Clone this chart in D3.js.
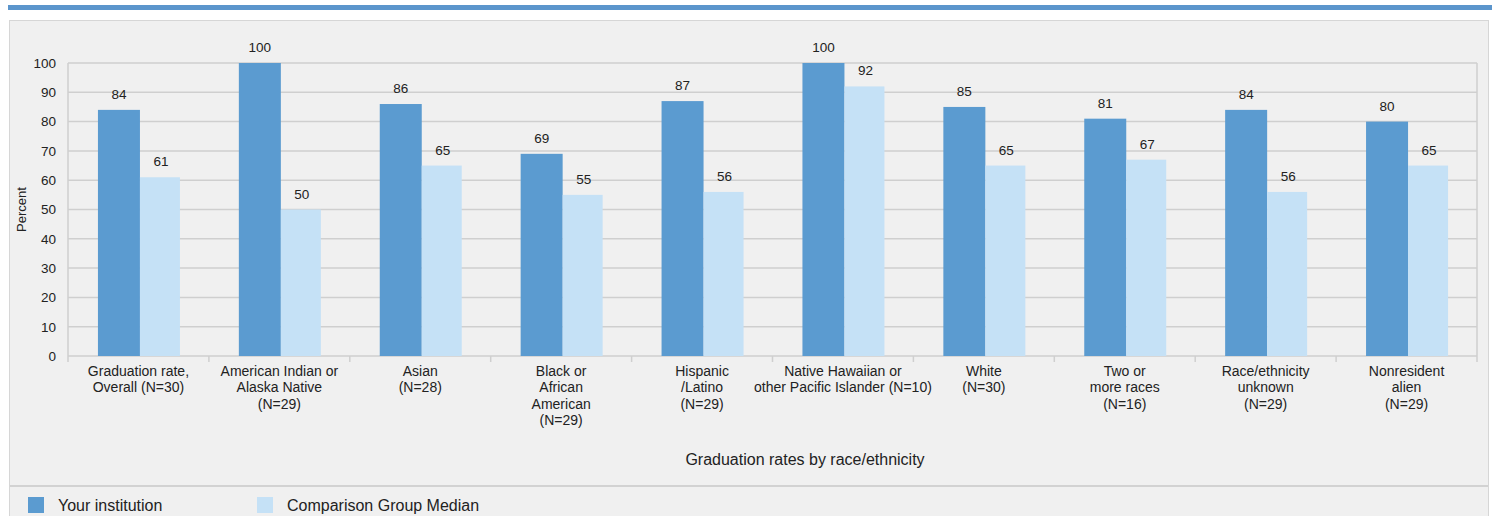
<!DOCTYPE html>
<html>
<head>
<meta charset="utf-8">
<script src="https://cdn.jsdelivr.net/npm/d3@7"></script>
<style>
  body { margin: 0; background: #fff; }
  svg { display: block; font-family: "Liberation Sans", Arial, sans-serif; }
</style>
</head>
<body>
<svg id="visframe" width="1497" height="516"></svg>
<script>
// chart data
var categories = [
  ["Graduation rate,", "Overall (N=30)"],
  ["American Indian or", "Alaska Native", "(N=29)"],
  ["Asian", "(N=28)"],
  ["Black or", "African", "American", "(N=29)"],
  ["Hispanic", "/Latino", "(N=29)"],
  ["Native Hawaiian or", "other Pacific Islander (N=10)"],
  ["White", "(N=30)"],
  ["Two or", "more races", "(N=16)"],
  ["Race/ethnicity", "unknown", "(N=29)"],
  ["Nonresident", "alien", "(N=29)"]
];
var yourInstitution = [84, 100, 86, 69, 87, 100, 85, 81, 84, 80];
var comparisonMedian = [61, 50, 65, 55, 56, 92, 65, 67, 56, 65];
var seriesNames = ["Your institution", "Comparison Group Median"];
var yTicks = [0, 10, 20, 30, 40, 50, 60, 70, 80, 90, 100];

var colors = ["#5b9bd0", "#c5e1f6"];

var plot = { left: 68, right: 1477, top: 63, bottom: 356 };

var svg = d3.select("#visframe");

// top rule
svg.append("rect")
  .attr("x", 8).attr("y", 5)
  .attr("width", 1484).attr("height", 5)
  .attr("fill", "#5b95cc");

// panel
svg.append("rect")
  .attr("x", 9.5).attr("y", 20.5)
  .attr("width", 1479).attr("height", 520)
  .attr("fill", "#f0f0f0")
  .attr("stroke", "#d6d6d6");

svg.append("line")
  .attr("x1", 10).attr("x2", 1488)
  .attr("y1", 486).attr("y2", 486)
  .attr("stroke", "#d2d2d2").attr("stroke-width", 2);

var x = d3.scaleBand()
  .domain(d3.range(categories.length))
  .range([plot.left, plot.right]);

var groupW = 84;
var xInner = d3.scaleBand()
  .domain([0, 1])
  .range([0, groupW]);

var y = d3.scaleLinear()
  .domain([0, 100])
  .range([plot.bottom, plot.top]);

// gridlines
svg.append("g")
  .selectAll("line")
  .data(yTicks)
  .join("line")
  .attr("x1", plot.left).attr("x2", plot.right)
  .attr("y1", d => y(d)).attr("y2", d => y(d))
  .attr("stroke", "#cfcfcf")
  .attr("stroke-width", 1.5);

// plot frame (left and right)
svg.append("line")
  .attr("x1", plot.left).attr("x2", plot.left)
  .attr("y1", plot.top).attr("y2", plot.bottom + 6)
  .attr("stroke", "#cfcfcf").attr("stroke-width", 1.5);
svg.append("line")
  .attr("x1", plot.right).attr("x2", plot.right)
  .attr("y1", plot.top).attr("y2", plot.bottom + 6)
  .attr("stroke", "#cfcfcf").attr("stroke-width", 1.5);

// category ticks
svg.append("g")
  .selectAll("line")
  .data(d3.range(1, categories.length))
  .join("line")
  .attr("x1", d => x(d)).attr("x2", d => x(d))
  .attr("y1", plot.bottom).attr("y2", plot.bottom + 6)
  .attr("stroke", "#cfcfcf").attr("stroke-width", 1.5);

// y axis labels
var yAxis = svg.append("g")
  .attr("transform", "translate(" + (plot.left - 12) + ",0)")
  .call(d3.axisLeft(y).tickValues(yTicks).tickSize(0).tickPadding(0));
yAxis.select(".domain").remove();
yAxis.selectAll("text")
  .attr("font-size", 13.5)
  .attr("fill", "#222")
  .style("font-family", "Liberation Sans, Arial, sans-serif");

svg.append("text")
  .attr("transform", "translate(26," + ((plot.top + plot.bottom) / 2) + ") rotate(-90)")
  .attr("text-anchor", "middle")
  .attr("font-size", 13)
  .attr("fill", "#222")
  .text("Percent");

// bars
var series = [yourInstitution, comparisonMedian];
var groupX = i => x(i) + (x.bandwidth() - groupW) / 2 + 1.5;
var groups = svg.append("g")
  .selectAll("g")
  .data(series)
  .join("g")
  .attr("fill", (d, i) => colors[i]);

groups.each(function(vals, s) {
  var g = d3.select(this);
  g.selectAll("rect")
    .data(vals)
    .join("rect")
    .attr("x", (d, i) => groupX(i) + xInner(s))
    .attr("y", d => y(d))
    .attr("width", xInner.bandwidth() - (s === 1 ? 2 : 0))
    .attr("height", d => y(0) - y(d));

  g.selectAll("text")
    .data(vals)
    .join("text")
    .attr("x", (d, i) => groupX(i) + xInner(s) + xInner.bandwidth() / 2)
    .attr("y", d => y(d) - 11)
    .attr("text-anchor", "middle")
    .attr("font-size", 13.5)
    .attr("fill", "#222")
    .text(d => d);
});

// category labels
var labels = svg.append("g")
  .selectAll("text")
  .data(categories)
  .join("text")
  .attr("x", (d, i) => x(i) + x.bandwidth() / 2)
  .attr("y", plot.bottom + 20)
  .attr("text-anchor", "middle")
  .attr("font-size", 14)
  .attr("fill", "#222");

labels.selectAll("tspan")
  .data(d => d)
  .join("tspan")
  .attr("x", function() { return d3.select(this.parentNode).attr("x"); })
  .attr("dy", (d, i) => i === 0 ? 0 : 16.3)
  .text(d => d);

svg.append("text")
  .attr("x", 805)
  .attr("y", 465)
  .attr("text-anchor", "middle")
  .attr("font-size", 16)
  .attr("fill", "#222")
  .text("Graduation rates by race/ethnicity");

// legend
var legendX = [28, 257];
var legend = svg.append("g")
  .selectAll("g")
  .data(seriesNames)
  .join("g")
  .attr("transform", (d, i) => "translate(" + legendX[i] + ",497)");

legend.append("rect")
  .attr("width", 16).attr("height", 16)
  .attr("fill", (d, i) => colors[i]);

legend.append("text")
  .attr("x", 30).attr("y", 14)
  .attr("font-size", 16)
  .attr("fill", "#222")
  .text(d => d);
</script>
</body>
</html>
